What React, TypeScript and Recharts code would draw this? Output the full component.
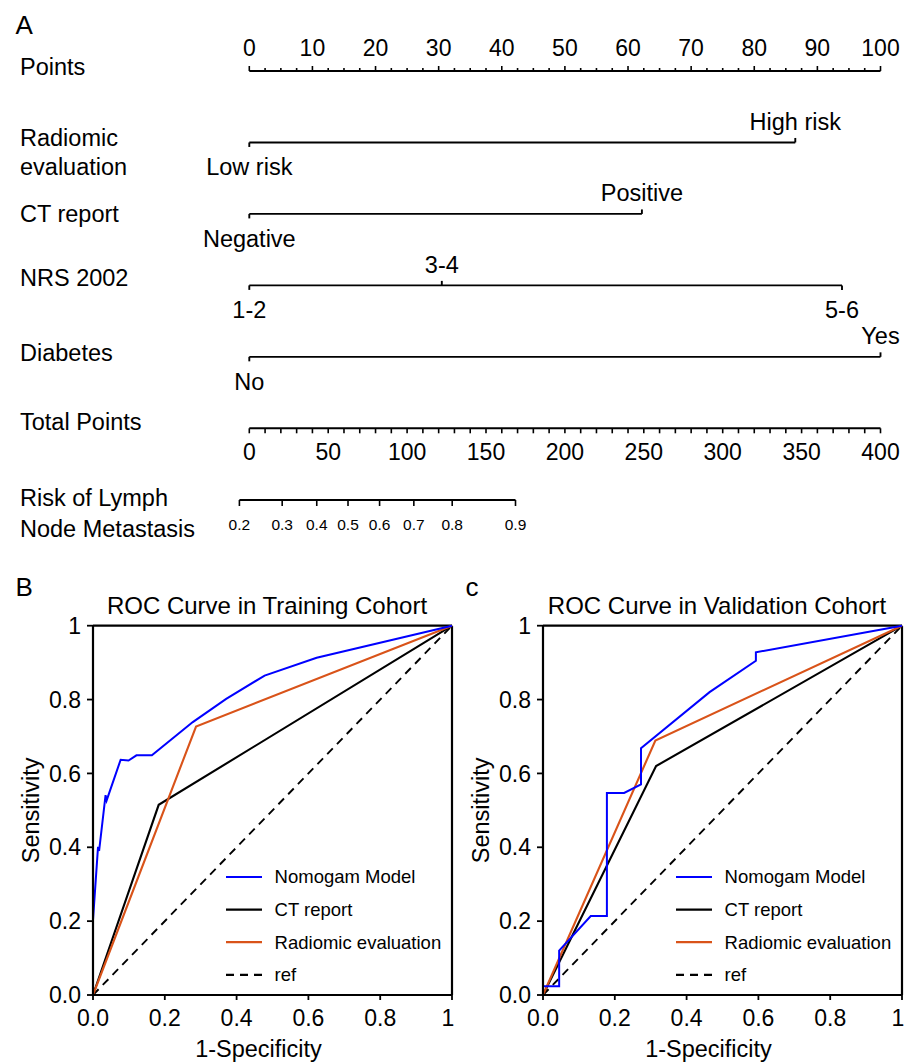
import React from 'react';
import { ComposedChart, LineChart, Line, XAxis, YAxis, ReferenceLine, Legend } from 'recharts';

const FONT = "'Liberation Sans', Arial, Helvetica, sans-serif";

// ---------- nomogram (panel A) ----------
const pointMajor = [0, 10, 20, 30, 40, 50, 60, 70, 80, 90, 100];
const totalMajor = [0, 50, 100, 150, 200, 250, 300, 350, 400];
const pointTicks = Array.from({ length: 41 }, (_, i) => i * 2.5);
const totalTicks = Array.from({ length: 41 }, (_, i) => i * 10);

const rowNames = ['Points', 'Radiomic\nevaluation', 'CT report', 'NRS 2002', 'Diabetes', 'Total Points'];

const radiomicLevels = ['Low risk', 'High risk'];
const radiomicPoints = [0, 86.5];
const ctLevels = ['Negative', 'Positive'];
const ctPoints = [0, 62.2];
const nrsLevels = ['1-2', '3-4', '5-6'];
const nrsPoints = [0, 30.5, 93.9];
const diabetesLevels = ['No', 'Yes'];
const diabetesPoints = [0, 100];

const riskLabels = ['0.2', '0.3', '0.4', '0.5', '0.6', '0.7', '0.8', '0.9'];
const riskTotalPoints = [-6.2, 20.9, 42.8, 62.6, 82.6, 104.3, 128.6, 168.7];

// ---------- ROC (panels B, C) ----------
const rocTicks = [0, 0.2, 0.4, 0.6, 0.8, 1];
const rocTickLabels = ['0.0', '0.2', '0.4', '0.6', '0.8', '1'];

const trainNomoFpr = [0, 0, 0.014, 0.017, 0.035, 0.038, 0.077, 0.099, 0.121, 0.164, 0.278, 0.371, 0.478, 0.623, 1];
const trainNomoTpr = [0, 0.203, 0.401, 0.39, 0.541, 0.527, 0.637, 0.635, 0.649, 0.649, 0.739, 0.802, 0.865, 0.913, 1];
const trainCtFpr = [0, 0.183, 1];
const trainCtTpr = [0, 0.515, 1];
const trainRadFpr = [0, 0.287, 1];
const trainRadTpr = [0, 0.727, 1];

const validNomoFpr = [0, 0, 0.045, 0.045, 0.133, 0.178, 0.178, 0.226, 0.273, 0.273, 0.464, 0.593, 0.593, 1];
const validNomoTpr = [0, 0.024, 0.024, 0.12, 0.214, 0.214, 0.547, 0.547, 0.57, 0.668, 0.82, 0.905, 0.928, 1];
const validCtFpr = [0, 0.315, 1];
const validCtTpr = [0, 0.62, 1];
const validRadFpr = [0, 0.313, 1];
const validRadTpr = [0, 0.689, 1];

const refFpr = [0, 1];
const refTpr = [0, 1];

const legendNames = ['Nomogam Model', 'CT report', 'Radiomic evaluation', 'ref'];

const BLUE = '#0000ff';
const ORANGE = '#d95319';

const variables = [
  { levels: radiomicLevels, points: radiomicPoints },
  { levels: ctLevels, points: ctPoints },
  { levels: nrsLevels, points: nrsPoints },
  { levels: diabetesLevels, points: diabetesPoints },
];

// label offsets (px) relative to each row line
const ROW_LABEL_DY = [[-4], [-4.5, 24.5], [0], [-8], [-4], [-6.5]];

const RowLabel = (props: any) => {
  const { y, payload } = props;
  const lines = rowNames[payload.value].split('\n');
  const dys = ROW_LABEL_DY[payload.value];
  return (
    <g>
      {lines.map((l, i) => (
        <text key={i} x={20} y={y + dys[i]} dy="0.35em" fontSize={23.5} fill="#000" fontFamily={FONT}>
          {l}
        </text>
      ))}
    </g>
  );
};

const PointsTick = (props: any) => {
  const { x, y, payload } = props;
  const major = pointMajor.includes(payload.value);
  return (
    <g>
      <line x1={x} x2={x} y1={y} y2={y - (major ? 5 : 3)} stroke="#000" strokeWidth={1.6} />
      {major && (
        <text x={x} y={y - 23.5} dy="0.35em" textAnchor="middle" fontSize={23} fill="#000" fontFamily={FONT}>
          {payload.value}
        </text>
      )}
    </g>
  );
};

const TotalTick = (props: any) => {
  const { x, y, payload } = props;
  const major = totalMajor.includes(payload.value);
  return (
    <g>
      <line x1={x} x2={x} y1={y} y2={y + 5} stroke="#000" strokeWidth={1.6} />
      {major && (
        <text x={x} y={y + 23.5} dy="0.35em" textAnchor="middle" fontSize={23} fill="#000" fontFamily={FONT}>
          {payload.value}
        </text>
      )}
    </g>
  );
};

const RiskTick = (props: any) => {
  const { x, y, index } = props;
  return (
    <g>
      <line x1={x} x2={x} y1={y} y2={y + 6} stroke="#000" strokeWidth={1.6} />
      <text x={x} y={y + 25} dy="0.35em" textAnchor="middle" fontSize={15.5} fill="#000" fontFamily={FONT}>
        {riskLabels[index]}
      </text>
    </g>
  );
};

const RiskRowLabel = (props: any) => {
  const { y } = props;
  return (
    <g>
      <text x={20} y={y - 2.4} dy="0.35em" fontSize={23.5} fill="#000" fontFamily={FONT}>Risk of Lymph</text>
      <text x={20} y={y + 28.6} dy="0.35em" fontSize={23.5} fill="#000" fontFamily={FONT}>Node Metastasis</text>
    </g>
  );
};

const LevelDot = (props: any) => {
  const { cx, cy, index, payload } = props;
  const above = index % 2 === 1;
  return (
    <g>
      <line x1={cx} x2={cx} y1={cy} y2={cy + (above ? -4.5 : 4.5)} stroke="#000" strokeWidth={1.9} />
      <text x={cx} y={cy + (above ? -21 : 24.5)} dy="0.35em" textAnchor="middle" fontSize={23.5} fill="#000" fontFamily={FONT}>
        {payload.label}
      </text>
    </g>
  );
};

const Nomogram = () => (
  <>
    <div style={{ position: 'absolute', left: 0, top: 0 }}>
      <ComposedChart width={905} height={545} margin={{ top: 31, right: 24.5, bottom: 71.7, left: 0 }} style={{ overflow: 'visible' }}>
        <XAxis
          xAxisId="pts"
          orientation="top"
          type="number"
          dataKey="pt"
          domain={[0, 100]}
          ticks={pointTicks}
          interval={0}
          height={40}
          tickSize={0}
          tickMargin={0}
          tickLine={false}
          tick={<PointsTick />}
          axisLine={{ stroke: '#000', strokeWidth: 2 }}
        />
        <XAxis
          xAxisId="tot"
          orientation="bottom"
          type="number"
          dataKey="tp"
          domain={[0, 400]}
          ticks={totalTicks}
          interval={0}
          height={45}
          tickSize={0}
          tickMargin={0}
          tickLine={false}
          tick={<TotalTick />}
          axisLine={{ stroke: '#000', strokeWidth: 2 }}
        />
        <YAxis
          yAxisId="row"
          type="number"
          domain={[0, 5]}
          reversed
          ticks={[0, 1, 2, 3, 4, 5]}
          interval={0}
          width={249.3}
          axisLine={false}
          tickLine={false}
          tickSize={0}
          tickMargin={0}
          tick={<RowLabel />}
        />
        {variables.map((v, k) => (
          <Line
            key={k}
            xAxisId="pts"
            yAxisId="row"
            data={v.points.map((pt, i) => ({ pt, row: k + 1, label: v.levels[i] }))}
            dataKey="row"
            stroke="#000"
            strokeWidth={1.9}
            dot={(p: any) => <LevelDot key={`lv-${k}-${p.index}`} {...p} />}
            activeDot={false}
            isAnimationActive={false}
          />
        ))}
        <Line
          xAxisId="tot"
          yAxisId="row"
          data={totalMajor.map((tp) => ({ tp, row: 5 }))}
          dataKey="row"
          stroke="none"
          dot={false}
          activeDot={false}
          isAnimationActive={false}
        />
      </ComposedChart>
    </div>
    <div style={{ position: 'absolute', left: 0, top: 450 }}>
      <ComposedChart width={905} height={95} margin={{ top: 0, right: 389.5, bottom: 5, left: 0 }}>
        <XAxis
          type="number"
          dataKey="tp"
          domain={[riskTotalPoints[0], riskTotalPoints[riskTotalPoints.length - 1]]}
          ticks={riskTotalPoints}
          interval={0}
          height={40}
          tickSize={0}
          tickMargin={0}
          tickLine={false}
          tick={<RiskTick />}
          axisLine={{ stroke: '#000', strokeWidth: 2 }}
        />
        <YAxis
          type="number"
          domain={[0, 1]}
          ticks={[0]}
          width={239.4}
          axisLine={false}
          tickLine={false}
          tickSize={0}
          tickMargin={0}
          tick={<RiskRowLabel />}
        />
        <Line
          data={riskTotalPoints.map((tp) => ({ tp, y: 0 }))}
          dataKey="y"
          stroke="none"
          dot={false}
          activeDot={false}
          isAnimationActive={false}
        />
      </ComposedChart>
    </div>
  </>
);

const toPts = (fpr: number[], tpr: number[]) => fpr.map((f, i) => ({ fpr: f, tpr: tpr[i] }));

interface RocProps {
  left: number;
  width: number;
  letter: string;
  title: string;
  nomo: { fpr: number; tpr: number }[];
  ct: { fpr: number; tpr: number }[];
  rad: { fpr: number; tpr: number }[];
}

const legendStyles = [
  { color: BLUE, dash: undefined },
  { color: '#000', dash: undefined },
  { color: ORANGE, dash: undefined },
  { color: '#000', dash: '8 6' },
];

const RocLegend = () => (
  <svg width={230} height={130} style={{ display: 'block' }}>
    {legendNames.map((name, i) => (
      <g key={name}>
        <line x1={0} x2={36} y1={12 + i * 32.6} y2={12 + i * 32.6} stroke={legendStyles[i].color} strokeWidth={2.2} strokeDasharray={legendStyles[i].dash} />
        <text x={48.6} y={12 + i * 32.6} dy="0.35em" fontSize={18.5} fill="#000" fontFamily={FONT}>
          {name}
        </text>
      </g>
    ))}
  </svg>
);

// x tick: last label "1" nudged so it stays inside the page
const RocXTick = (props: any) => {
  const { x, y, index } = props;
  const last = index === rocTicks.length - 1;
  return (
    <text x={last ? x - 4 : x} y={y} dy="0.71em" textAnchor="middle" fontSize={23} fill="#000" fontFamily={FONT}>
      {rocTickLabels[index]}
    </text>
  );
};

const RocPanel = ({ left, width, letter, title, nomo, ct, rad }: RocProps) => (
  <div style={{ position: 'absolute', left, top: 560, width, height: 503 }}>
    <LineChart width={width} height={503} margin={{ top: 65.7, right: width - 452, bottom: 4, left: 33 }}>
      <XAxis
        type="number"
        dataKey="fpr"
        domain={[0, 1]}
        ticks={rocTicks}
        interval={0}
        height={64}
        tickSize={5}
        tickMargin={10}
        axisLine={{ stroke: '#000', strokeWidth: 2.2 }}
        tickLine={{ stroke: '#000', strokeWidth: 1.8 }}
        tick={<RocXTick />}
        label={{
          content: (p: any) => {
            const vb = p.viewBox || {};
            return (
              <text x={vb.x + vb.width / 2 - 14} y={vb.y + 62} textAnchor="middle" fontSize={23.5} fill="#000" fontFamily={FONT}>
                1-Specificity
              </text>
            );
          },
        }}
      />
      <YAxis
        type="number"
        dataKey="tpr"
        domain={[0, 1]}
        ticks={rocTicks}
        interval={0}
        tickFormatter={(_v: number, i: number) => rocTickLabels[i]}
        width={60}
        tickSize={6}
        tickMargin={6}
        axisLine={{ stroke: '#000', strokeWidth: 2.2 }}
        tickLine={{ stroke: '#000', strokeWidth: 1.8 }}
        tick={{ fontSize: 23, fill: '#000', fontFamily: FONT }}
        label={{
          content: (p: any) => {
            const vb = p.viewBox || {};
            const cy = vb.y + vb.height / 2;
            return (
              <text
                x={31}
                y={cy}
                dy="0.35em"
                textAnchor="middle"
                transform={`rotate(-90, 31, ${cy})`}
                fontSize={23.5}
                fill="#000"
                fontFamily={FONT}
              >
                Sensitivity
              </text>
            );
          },
        }}
      />
      <ReferenceLine y={1} stroke="#000" strokeWidth={2.2} />
      <ReferenceLine x={1} stroke="#000" strokeWidth={2.2} />
      <Line data={toPts(refFpr, refTpr)} dataKey="tpr" stroke="#000" strokeWidth={1.9} strokeDasharray="8 6" dot={false} activeDot={false} isAnimationActive={false} />
      <Line data={ct} dataKey="tpr" stroke="#000" strokeWidth={2.1} dot={false} activeDot={false} isAnimationActive={false} />
      <Line data={rad} dataKey="tpr" stroke={ORANGE} strokeWidth={2.1} dot={false} activeDot={false} isAnimationActive={false} />
      <Line data={nomo} dataKey="tpr" stroke={BLUE} strokeWidth={2} dot={false} activeDot={false} isAnimationActive={false} />
      <Legend
        layout="vertical"
        align="center"
        verticalAlign="middle"
        content={() => <RocLegend />}
        wrapperStyle={{ left: 225.7, top: 305, width: 230, height: 130 }}
      />
    </LineChart>
    <svg width={width} height={70} style={{ position: 'absolute', left: 0, top: 0, pointerEvents: 'none' }}>
      <text x={15.5} y={36} fontSize={26} fill="#000" fontFamily={FONT}>{letter}</text>
      <text x={267} y={54} textAnchor="middle" fontSize={24} fill="#000" fontFamily={FONT}>{title}</text>
    </svg>
  </div>
);

export default function App() {
  return (
    <div style={{ position: 'absolute', left: 0, top: 0, width: 905, height: 1063, background: '#fff', fontFamily: FONT }}>
      <svg width={60} height={45} style={{ position: 'absolute', left: 0, top: 0 }}>
        <text x={15.5} y={34.4} fontSize={26} fill="#000" fontFamily={FONT}>A</text>
      </svg>
      <Nomogram />
      <RocPanel
        left={0}
        width={460}
        letter="B"
        title="ROC Curve in Training Cohort"
        nomo={toPts(trainNomoFpr, trainNomoTpr)}
        ct={toPts(trainCtFpr, trainCtTpr)}
        rad={toPts(trainRadFpr, trainRadTpr)}
      />
      <RocPanel
        left={450}
        width={455}
        letter="c"
        title="ROC Curve in Validation Cohort"
        nomo={toPts(validNomoFpr, validNomoTpr)}
        ct={toPts(validCtFpr, validCtTpr)}
        rad={toPts(validRadFpr, validRadTpr)}
      />
    </div>
  );
}
